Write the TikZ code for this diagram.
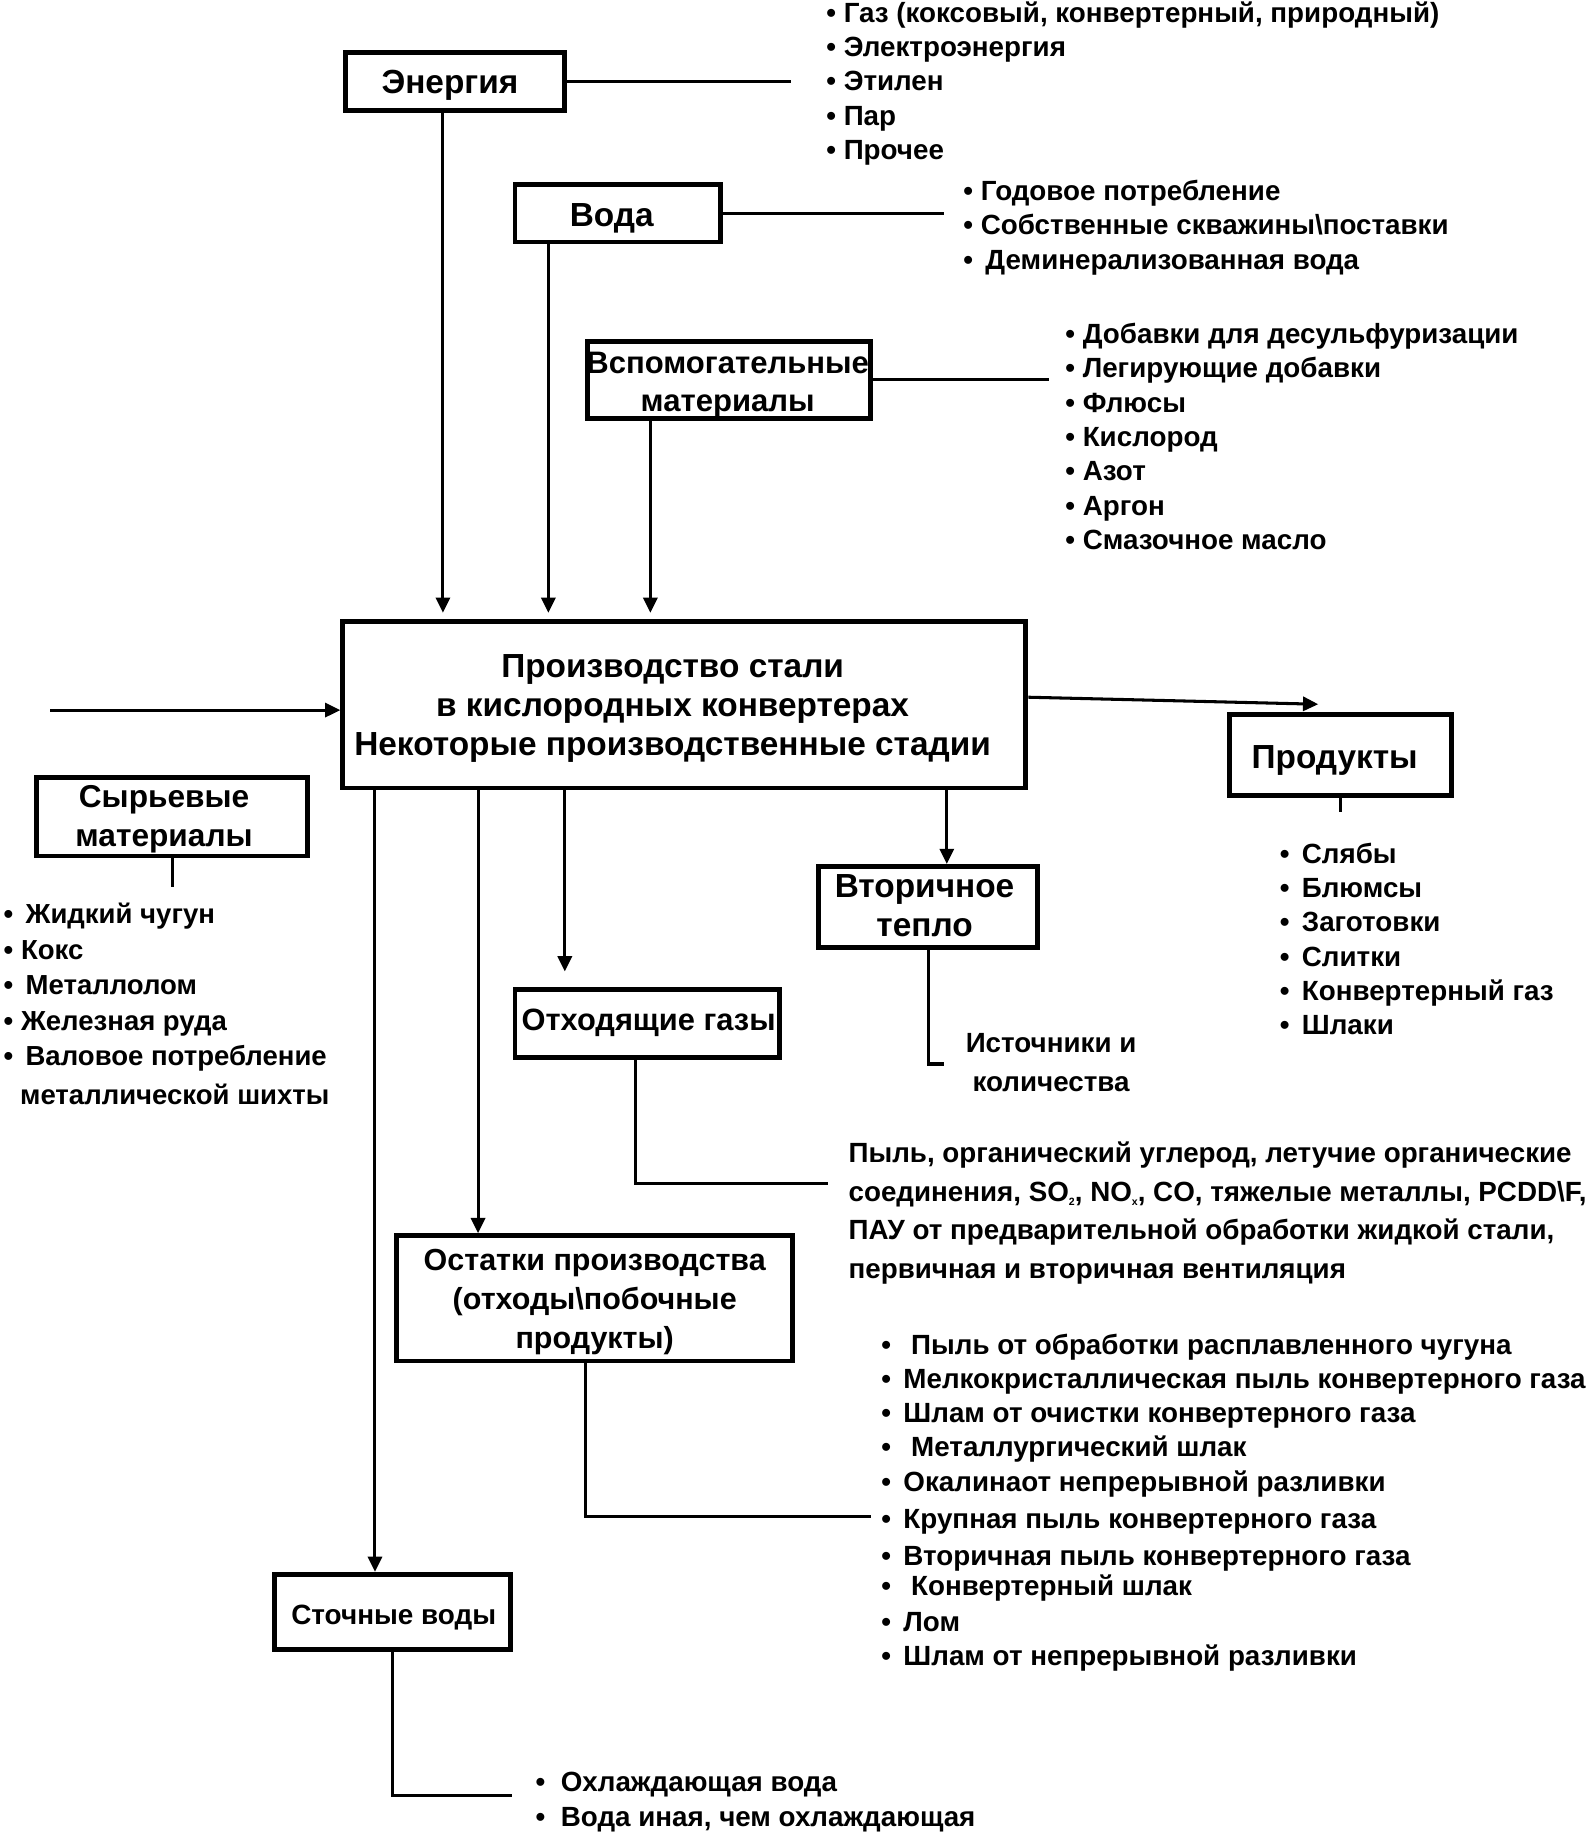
\documentclass[tikz,border=0pt]{standalone}
\usepackage{fontspec}
\setmainfont{Liberation Sans}
\usetikzlibrary{arrows.meta}
\newcommand\bxfont{\bfseries\fontsize{28.5}{33}\selectfont}
\newcommand\lfont{\bfseries\fontsize{23.7}{29.3}\selectfont}
\newcommand\sbs[1]{{\fontsize{9}{9}\selectfont\raisebox{-4pt}{#1}}}
\begin{document}
\begin{tikzpicture}[x=1pt,y=-1pt,
  box/.style={draw,line width=4.2pt,inner sep=0pt},
  btxt/.style={inner sep=0pt,align=center,font=\bxfont},
  ln/.style={line width=2.6pt},
  arr/.style={line width=2.6pt,-{Triangle[length=13pt,width=12pt]}},
  lst/.style={inner sep=0pt,anchor=base west,align=left,font=\lfont},
]
\useasboundingbox (0,0) rectangle (1360,1566);
% boxes
\node[box,minimum width=187,minimum height=50] (energy) at (388,69.5) {};
\node[box,minimum width=175,minimum height=49] (water) at (527,182) {};
\node[box,minimum width=241,minimum height=66] (aux) at (622,324.5) {};
\node[box,minimum width=583,minimum height=142] (main) at (584,601.5) {};
\node[box,minimum width=231,minimum height=67] (raw) at (147,697) {};
\node[box,minimum width=189,minimum height=69] (prod) at (1144,644) {};
\node[box,minimum width=187,minimum height=69] (heat) at (792,774) {};
\node[box,minimum width=226,minimum height=58] (gas) at (552.5,873.5) {};
\node[box,minimum width=338,minimum height=107] (resid) at (507.5,1108) {};
\node[box,minimum width=201,minimum height=64] (waste) at (335,1375.5) {};
% box texts
\node[btxt] (energyt) at ([xshift=-4pt,yshift=-3pt]energy.center) {Энергия};
\node[btxt] (watert) at ([xshift=-5pt,yshift=-4pt]water.center) {Вода};
\node[btxt,font=\bfseries\fontsize{26.5}{33}\selectfont] (auxt) at ([xshift=-1pt,yshift=-4pt]aux.center) {Вспомогательные\\материалы};
\node[btxt] (maint) at ([xshift=-10pt,yshift=-3pt]main.center) {Производство стали\\в кислородных конвертерах\\Некоторые производственные стадии};
\node[btxt,font=\bfseries\fontsize{27}{33}\selectfont] (rawt) at ([xshift=-7pt,yshift=-2pt]raw.center) {Сырьевые\\материалы};
\node[btxt] (prodt) at ([xshift=-5pt,yshift=-5pt]prod.center) {Продукты};
\node[btxt] (heatt) at ([xshift=-3pt,yshift=1pt]heat.center) {Вторичное\\тепло};
\node[btxt,font=\bfseries\fontsize{26.3}{33}\selectfont] (gast) at ([xshift=1pt,yshift=1pt]gas.center) {Отходящие газы};
\node[btxt,font=\bfseries\fontsize{26}{33}\selectfont] (residt) at ([yshift=-3pt]resid.center) {Остатки производства\\(отходы\textbackslash побочные\\продукты)};
\node[btxt,font=\bfseries\fontsize{23.8}{30}\selectfont] (wastet) at ([xshift=1pt,yshift=-5pt]waste.center) {Сточные воды};
% coordinates
\coordinate (eend) at (675,69.5);
\coordinate (wend) at (806,182);
\coordinate (aend) at (895,324);
\coordinate (t1) at (378,523);
\coordinate (t2) at (468,523);
\coordinate (t3) at (555,523);
\coordinate (inl) at (43,606);
\coordinate (ptip) at (1125,601);
\coordinate (pend) at (1144,693);
\coordinate (rend) at (147,757);
\coordinate (b1) at (320,0);
\coordinate (b2) at (408,0);
\coordinate (b3) at (482,829);
\coordinate (b4) at (808,0);
\coordinate (hk) at (806,908);
\coordinate (gk) at (707,1010);
\coordinate (rk) at (743,1294);
\coordinate (wk) at (437,1532);
% connectors
\draw[ln] (energy.east) -- (eend);
\draw[ln] (water.east) -- (wend);
\draw[ln] (aux.east |- aend) -- (aend);
\draw[arr] (energy.south -| t1) -- (t1);
\draw[arr] (water.south -| t2) -- (t2);
\draw[arr] (aux.south -| t3) -- (t3);
\draw[arr] (inl) -- (inl -| main.west);
\draw[arr] ([yshift=6.5pt]main.east) -- (ptip);
\draw[ln] (prod.south) -- (pend);
\draw[ln] (raw.south) -- (rend);
\draw[arr] (main.south -| b1) -- (waste.north -| b1);
\draw[arr] (main.south -| b2) -- (resid.north -| b2);
\draw[arr] (main.south -| b3) -- (b3);
\draw[arr] (main.south -| b4) -- (heat.north -| b4);
\draw[ln] (heat.south) |- (hk);
\draw[ln] ([xshift=-10.5pt]gas.south) |- (gk);
\draw[ln] ([xshift=-7.5pt]resid.south) |- (rk);
\draw[ln] (waste.south) |- (wk);
% lists (anchored at the baseline of their last line)
\node[lst] (elist) at (705,136) {• Газ (коксовый, конвертерный, природный)\\• Электроэнергия\\• Этилен\\• Пар\\• Прочее};
\node[lst,font=\bfseries\fontsize{23.7}{29.5}\selectfont] (wlist) at (822,230) {• Годовое потребление\\• Собственные скважины\textbackslash поставки\\•\, Деминерализованная вода};
\node[lst] (alist) at (909,469) {• Добавки для десульфуризации\\• Легирующие добавки\\• Флюсы\\• Кислород\\• Азот\\• Аргон\\• Смазочное масло};
\node[lst,font=\bfseries\fontsize{23.5}{30.3}\selectfont] (rlist) at (3,943) {•\, Жидкий чугун\\• Кокс\\•\, Металлолом\\• Железная руда\\•\, Валовое потребление\\[3pt]\hspace*{14pt}металлической шихты};
\node[lst] (plist) at (1092,883) {•\, Слябы\\•\, Блюмсы\\•\, Заготовки\\•\, Слитки\\•\, Конвертерный газ\\•\, Шлаки};
\node[inner sep=0pt,align=center,font=\bfseries\fontsize{23.7}{33}\selectfont] (htxt) at (897,907) {Источники и\\количества};
\node[lst,font=\bfseries\fontsize{23.7}{33}\selectfont] (gtxt) at (724,1091) {Пыль, органический углерод, летучие органические\\соединения, SO\sbs{2}, NO\sbs{x}, CO, тяжелые металлы, PCDD\textbackslash F,\\ПАУ от предварительной обработки жидкой стали,\\первичная и вторичная вентиляция};
\node[lst,font=\bfseries\fontsize{23.7}{29}\selectfont] (reslist) at (752,1421) {•\;\, Пыль от обработки расплавленного чугуна\\•\, Мелкокристаллическая пыль конвертерного газа\\•\, Шлам от очистки конвертерного газа\\•\;\, Металлургический шлак\\[1pt]•\, Окалинаот непрерывной разливки\\[2pt]•\, Крупная пыль конвертерного газа\\[3pt]•\, Вторичная пыль конвертерного газа\\[-3pt]•\;\, Конвертерный шлак\\[1pt]•\, Лом\\•\, Шлам от непрерывной разливки};
\node[lst,font=\bfseries\fontsize{23.7}{30}\selectfont] (wlist2) at (457,1559) {•\; Охлаждающая вода\\•\; Вода иная, чем охлаждающая};
\end{tikzpicture}
\end{document}
